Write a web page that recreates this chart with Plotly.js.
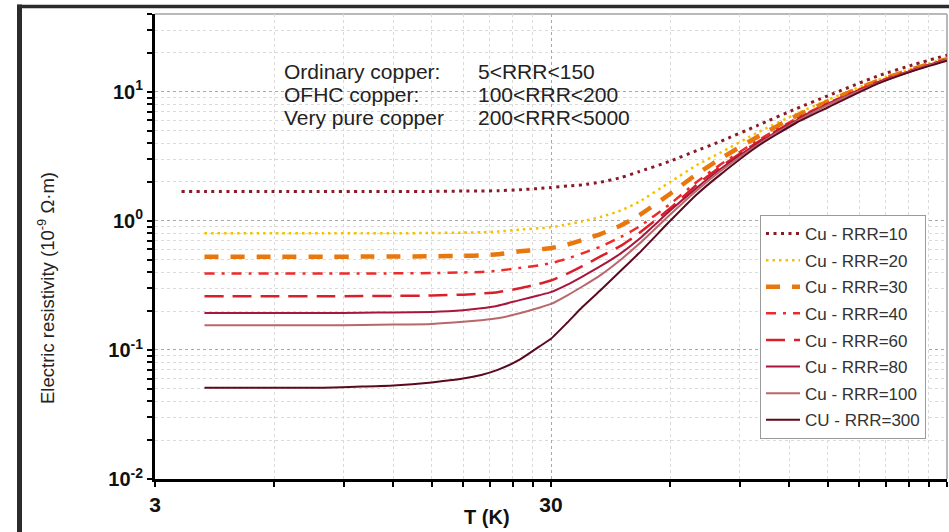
<!DOCTYPE html>
<html>
<head>
<meta charset="utf-8">
<script src="https://cdn.plot.ly/plotly-3.0.1.min.js"></script>
<style>
html,body{margin:0;padding:0;background:#fff;}
#chart{width:949px;height:532px;}
</style>
</head>
<body>
<div id="chart"></div>
<script>
// Temperatures (K)
const T_RRR10 = [3.5,4,6,8,10,12,15,18,20,22,25,28,30,33,36,40,45,50,60,70,80,100,125,150,200,250,300];
const T_common = [4,6,8,10,12,15,18,20,22,25,28,30,33,36,40,45,50,60,70,80,100,125,150,200,250,300];

// Electric resistivity (10^-9 Ohm.m)
const rho_RRR10  = [1.69,1.69,1.69,1.69,1.69,1.69,1.69,1.70,1.70,1.71,1.74,1.78,1.81,1.86,1.90,1.99,2.16,2.40,2.9,3.5,4.1,5.5,7.4,9.3,13.2,16.4,19.2];
const rho_RRR20  = [0.80,0.80,0.80,0.80,0.80,0.805,0.81,0.815,0.825,0.855,0.875,0.89,0.94,0.99,1.07,1.2,1.40,2.0,2.7,3.35,4.85,6.75,8.65,12.3,15.4,18.2];
const rho_RRR30  = [0.527,0.527,0.527,0.528,0.529,0.531,0.535,0.54,0.55,0.58,0.60,0.615,0.655,0.71,0.79,0.92,1.1,1.62,2.3,3.0,4.5,6.5,8.4,12.1,15.2,17.9];
const rho_RRR40  = [0.39,0.39,0.39,0.39,0.392,0.394,0.398,0.402,0.41,0.432,0.452,0.47,0.51,0.56,0.63,0.75,0.9,1.35,2.0,2.7,4.2,6.2,8.15,11.9,15.0,17.8];
const rho_RRR60  = [0.26,0.26,0.26,0.261,0.262,0.264,0.268,0.273,0.28,0.30,0.325,0.345,0.39,0.445,0.53,0.64,0.80,1.25,1.9,2.6,4.1,6.1,8.05,11.8,14.9,17.8];
const rho_RRR80  = [0.193,0.193,0.193,0.194,0.195,0.197,0.203,0.21,0.22,0.243,0.265,0.28,0.32,0.37,0.445,0.56,0.72,1.2,1.8,2.5,4.0,6.0,8.0,11.7,14.9,17.8];
const rho_RRR100 = [0.155,0.155,0.155,0.156,0.157,0.159,0.165,0.17,0.176,0.192,0.212,0.227,0.265,0.31,0.38,0.50,0.66,1.12,1.72,2.4,3.9,5.9,7.9,11.6,14.8,17.7];
const rho_RRR300 = [0.051,0.051,0.051,0.052,0.053,0.056,0.06,0.064,0.07,0.084,0.106,0.122,0.163,0.215,0.29,0.41,0.56,1.0,1.6,2.26,3.8,5.75,7.55,11.5,14.7,17.4];

const seriesNames = ["Cu - RRR=10","Cu - RRR=20","Cu - RRR=30","Cu - RRR=40","Cu - RRR=60","Cu - RRR=80","Cu - RRR=100","CU - RRR=300"];

// Axis ticks
const xMajorTicks = [3,30,300];
const xMajorLabels = ["<b>3</b>","<b>30</b>","<b>300</b>"];
const xMinorTicks = [6,9,12,15,18,21,24,27,60,90,120,150,180,210,240,270];
const yMajorTicks = [0.01,0.1,1,10];
const yMajorLabels = ["<b>10<sup>-2</sup></b>","<b>10<sup>-1</sup></b>","<b>10<sup>0</sup></b>","<b>10<sup>1</sup></b>"];
const yMinorTicks = [0.02,0.03,0.04,0.05,0.06,0.07,0.08,0.09,0.2,0.3,0.4,0.5,0.6,0.7,0.8,0.9,2,3,4,5,6,7,8,9,20,30,40];

// Info box text
const infoLeft = ["Ordinary copper:","OFHC copper:","Very pure copper"];
const infoRight = ["5&lt;RRR&lt;150","100&lt;RRR&lt;200","200&lt;RRR&lt;5000"];

const FONT = "Liberation Sans, Arial, sans-serif";

const styles = [
  {color:"#8a1b26", width:3,   dash:"3px,4.5px"},
  {color:"#f2c200", width:2.5, dash:"2.5px,4px"},
  {color:"#e8780e", width:4.5, dash:"14px,12px"},
  {color:"#f02a2a", width:2.5, dash:"10px,7px,3px,7px"},
  {color:"#d9202a", width:2.5, dash:"19px,9px"},
  {color:"#a8163c", width:2,   dash:"solid"},
  {color:"#b8686a", width:2,   dash:"solid"},
  {color:"#5a0a1e", width:2,   dash:"solid"}
];
const xs = [T_RRR10,T_common,T_common,T_common,T_common,T_common,T_common,T_common];
const ys = [rho_RRR10,rho_RRR20,rho_RRR30,rho_RRR40,rho_RRR60,rho_RRR80,rho_RRR100,rho_RRR300];

const traces = seriesNames.map((n,i)=>({
  type:"scatter", mode:"lines", name:n, x:xs[i], y:ys[i],
  legendgroup:"g"+i,
  line:{color:styles[i].color, width:styles[i].width, dash:styles[i].dash, shape:"spline", smoothing:0.5},
  hoverinfo:"skip"
}));

// pixel helpers for paper coordinates
const L=155, R=947, TOP=14, BOT=479;
const px = p => (p-L)/(R-L);
const py = p => (BOT-p)/(BOT-TOP);

const annotations = [];
const lineY = [71,94.5,118];
infoLeft.forEach((t,i)=>{
  annotations.push({xref:"paper",yref:"paper",x:px(282),y:py(lineY[i]),xanchor:"left",yanchor:"middle",
    text:t,showarrow:false,font:{family:FONT,size:21,color:"#222"}});
  annotations.push({xref:"paper",yref:"paper",x:px(476),y:py(lineY[i]),xanchor:"left",yanchor:"middle",
    text:infoRight[i],showarrow:false,font:{family:FONT,size:21,color:"#222"}});
});
annotations.push({xref:"paper",yref:"paper",x:px(487),y:py(517),xanchor:"center",yanchor:"middle",
  text:"<b>T (K)</b>",showarrow:false,font:{family:FONT,size:20,color:"#111"}});
annotations.push({xref:"paper",yref:"paper",x:px(46),y:py(288),xanchor:"center",yanchor:"middle",textangle:-90,
  text:"Electric resistivity (10<sup>-9</sup> Ω·m)",showarrow:false,font:{family:FONT,size:18.5,color:"#222"}});

const shapes = [
  {type:"rect",xref:"paper",yref:"paper",x0:px(265),x1:px(655),y0:py(140),y1:py(47),fillcolor:"#fff",line:{width:0},layer:"below"},
  {type:"line",xref:"paper",yref:"paper",x0:0,x1:1,y0:1,y1:1,line:{color:"#b8b8b8",width:2},layer:"below"},
  {type:"line",xref:"paper",yref:"paper",x0:1,x1:1,y0:0,y1:1,line:{color:"#b8b8b8",width:2},layer:"below"},
  {type:"line",xref:"paper",yref:"paper",x0:px(19.5),x1:px(19.5),y0:py(4.5),y1:py(540),line:{color:"#2b2b2b",width:5}},
  {type:"line",xref:"paper",yref:"paper",x0:px(17),x1:px(960),y0:py(6.5),y1:py(6.5),line:{color:"#2b2b2b",width:3.5}}
];

const xRange = [Math.log10(3),Math.log10(300)];
const yRange = [-2,Math.log10(40)];

const layout = {
  width:949, height:532,
  font:{family:FONT,size:17,color:"#111"},
  margin:{l:L, r:949-R, t:TOP, b:532-BOT, pad:0},
  paper_bgcolor:"#fff", plot_bgcolor:"#fff",
  showlegend:true,
  legend:{x:px(760),y:py(215),xanchor:"left",yanchor:"top",bgcolor:"#fff",bordercolor:"#9a9a9a",borderwidth:1,
    font:{family:FONT,size:17,color:"#333"},traceorder:"grouped",tracegroupgap:1.5,itemwidth:34},
  xaxis:{type:"log",range:xRange,
    tickmode:"array",tickvals:xMajorTicks,ticktext:xMajorLabels,
    ticks:"outside",ticklen:5,tickwidth:2,tickcolor:"#000",
    showline:true,linecolor:"#000",linewidth:3,
    showgrid:true,gridcolor:"#a8a8a8",griddash:"dot",gridwidth:1,
    zeroline:false,
    tickfont:{family:FONT,size:21,color:"#111"},
    ticklabelstandoff:0,
    minor:{tickmode:"array",tickvals:xMinorTicks,ticks:"outside",ticklen:5,tickwidth:2,tickcolor:"#000",showgrid:true,gridcolor:"#dadada",gridwidth:1}
  },
  yaxis:{type:"log",range:yRange,
    tickmode:"array",tickvals:yMajorTicks,ticktext:yMajorLabels,
    ticks:"outside",ticklen:5,tickwidth:2,tickcolor:"#000",
    showline:true,linecolor:"#000",linewidth:3,
    showgrid:true,gridcolor:"#a8a8a8",griddash:"dot",gridwidth:1,
    zeroline:false,
    tickfont:{family:FONT,size:20,color:"#111"},
    minor:{tickmode:"array",tickvals:yMinorTicks,ticks:"outside",ticklen:5,tickwidth:2,tickcolor:"#000",showgrid:true,gridcolor:"#dadada",gridwidth:1}
  },
  annotations:annotations,
  shapes:shapes
};

Plotly.newPlot("chart",traces,layout,{staticPlot:true,displayModeBar:false});
</script>
</body>
</html>
